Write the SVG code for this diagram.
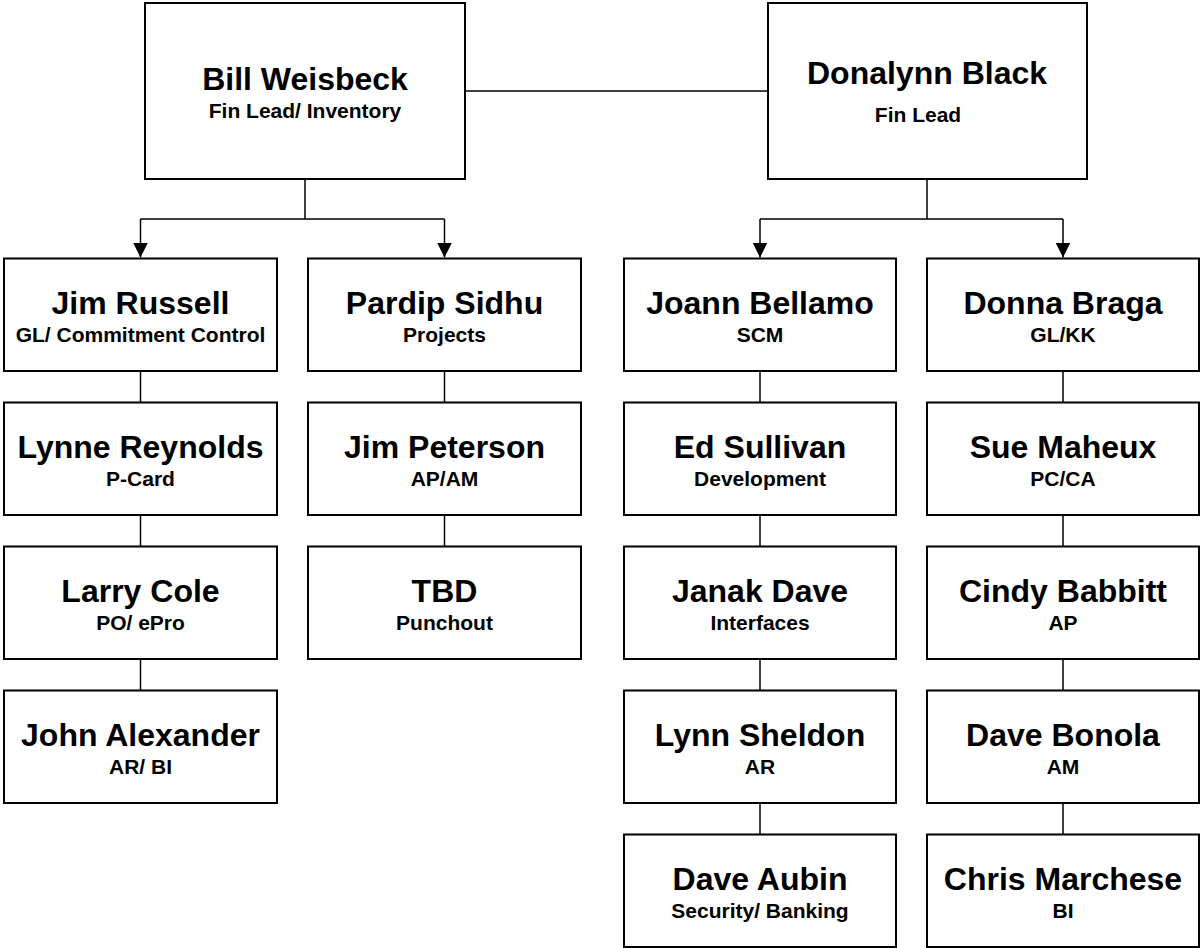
<svg xmlns="http://www.w3.org/2000/svg" width="1203" height="948" viewBox="0 0 1203 948">
  <style>
    .box { fill: #ffffff; stroke: #000000; stroke-width: 2; }
    .link { fill: none; stroke: #000000; stroke-width: 1.5; }
    .name { font-family: "Liberation Sans", Arial, sans-serif; font-weight: bold; font-size: 32px; text-anchor: middle; fill: #000000; }
    .role { font-family: "Liberation Sans", Arial, sans-serif; font-weight: bold; font-size: 21px; text-anchor: middle; fill: #000000; }
  </style>
  <defs>
    <marker id="arrow" markerUnits="userSpaceOnUse" markerWidth="15" markerHeight="15" refX="15" refY="7.5" orient="auto">
      <path d="M0,0 L15,7.5 L0,15 Z" fill="#000000"/>
    </marker>
  </defs>
  <rect width="1203" height="948" fill="#ffffff"/>

  <!-- connectors -->
  <g id="connectors">
    <line class="link" x1="465" y1="91" x2="768" y2="91"/>
    <!-- Bill Weisbeck branch -->
    <polyline class="link" points="305,179 305,219"/>
    <polyline class="link" points="140.5,219 444.5,219"/>
    <line class="link" x1="140.5" y1="219" x2="140.5" y2="257.5" marker-end="url(#arrow)"/>
    <line class="link" x1="444.5" y1="219" x2="444.5" y2="257.5" marker-end="url(#arrow)"/>
    <!-- Donalynn Black branch -->
    <polyline class="link" points="927,179 927,219"/>
    <polyline class="link" points="760,219 1063,219"/>
    <line class="link" x1="760" y1="219" x2="760" y2="257.5" marker-end="url(#arrow)"/>
    <line class="link" x1="1063" y1="219" x2="1063" y2="257.5" marker-end="url(#arrow)"/>
    <!-- column 1 -->
    <line class="link" x1="140.5" y1="371" x2="140.5" y2="402.5"/>
    <line class="link" x1="140.5" y1="515" x2="140.5" y2="546.5"/>
    <line class="link" x1="140.5" y1="659" x2="140.5" y2="690.5"/>
    <!-- column 2 -->
    <line class="link" x1="444.5" y1="371" x2="444.5" y2="402.5"/>
    <line class="link" x1="444.5" y1="515" x2="444.5" y2="546.5"/>
    <!-- column 3 -->
    <line class="link" x1="760" y1="371" x2="760" y2="402.5"/>
    <line class="link" x1="760" y1="515" x2="760" y2="546.5"/>
    <line class="link" x1="760" y1="659" x2="760" y2="690.5"/>
    <line class="link" x1="760" y1="803" x2="760" y2="834.5"/>
    <!-- column 4 -->
    <line class="link" x1="1063" y1="371" x2="1063" y2="402.5"/>
    <line class="link" x1="1063" y1="515" x2="1063" y2="546.5"/>
    <line class="link" x1="1063" y1="659" x2="1063" y2="690.5"/>
    <line class="link" x1="1063" y1="803" x2="1063" y2="834.5"/>
  </g>

  <!-- leads -->
  <g id="bill-weisbeck">
    <rect class="box" x="145" y="3" width="320" height="176"/>
    <text class="name" x="305" y="90">Bill Weisbeck</text>
    <text class="role" x="305" y="118">Fin Lead/ Inventory</text>
  </g>
  <g id="donalynn-black">
    <rect class="box" x="768" y="3" width="319" height="176"/>
    <text class="name" x="927" y="83.5">Donalynn Black</text>
    <text class="role" x="918" y="121.5">Fin Lead</text>
  </g>

  <!-- column 1 -->
  <g id="jim-russell">
    <rect class="box" x="4" y="258.5" width="273" height="112.5"/>
    <text class="name" x="140.5" y="314">Jim Russell</text>
    <text class="role" x="140.5" y="341.5">GL/ Commitment Control</text>
  </g>
  <g id="lynne-reynolds">
    <rect class="box" x="4" y="402.5" width="273" height="112.5"/>
    <text class="name" x="140.5" y="458">Lynne Reynolds</text>
    <text class="role" x="140.5" y="485.5">P-Card</text>
  </g>
  <g id="larry-cole">
    <rect class="box" x="4" y="546.5" width="273" height="112.5"/>
    <text class="name" x="140.5" y="602">Larry Cole</text>
    <text class="role" x="140.5" y="629.5">PO/ ePro</text>
  </g>
  <g id="john-alexander">
    <rect class="box" x="4" y="690.5" width="273" height="112.5"/>
    <text class="name" x="140.5" y="746">John Alexander</text>
    <text class="role" x="140.5" y="773.5">AR/ BI</text>
  </g>

  <!-- column 2 -->
  <g id="pardip-sidhu">
    <rect class="box" x="308" y="258.5" width="273" height="112.5"/>
    <text class="name" x="444.5" y="314">Pardip Sidhu</text>
    <text class="role" x="444.5" y="341.5">Projects</text>
  </g>
  <g id="jim-peterson">
    <rect class="box" x="308" y="402.5" width="273" height="112.5"/>
    <text class="name" x="444.5" y="458">Jim Peterson</text>
    <text class="role" x="444.5" y="485.5">AP/AM</text>
  </g>
  <g id="tbd">
    <rect class="box" x="308" y="546.5" width="273" height="112.5"/>
    <text class="name" x="444.5" y="602">TBD</text>
    <text class="role" x="444.5" y="629.5">Punchout</text>
  </g>

  <!-- column 3 -->
  <g id="joann-bellamo">
    <rect class="box" x="624" y="258.5" width="272" height="112.5"/>
    <text class="name" x="760" y="314">Joann Bellamo</text>
    <text class="role" x="760" y="341.5">SCM</text>
  </g>
  <g id="ed-sullivan">
    <rect class="box" x="624" y="402.5" width="272" height="112.5"/>
    <text class="name" x="760" y="458">Ed Sullivan</text>
    <text class="role" x="760" y="485.5">Development</text>
  </g>
  <g id="janak-dave">
    <rect class="box" x="624" y="546.5" width="272" height="112.5"/>
    <text class="name" x="760" y="602">Janak Dave</text>
    <text class="role" x="760" y="629.5">Interfaces</text>
  </g>
  <g id="lynn-sheldon">
    <rect class="box" x="624" y="690.5" width="272" height="112.5"/>
    <text class="name" x="760" y="746">Lynn Sheldon</text>
    <text class="role" x="760" y="773.5">AR</text>
  </g>
  <g id="dave-aubin">
    <rect class="box" x="624" y="834.5" width="272" height="112.5"/>
    <text class="name" x="760" y="890">Dave Aubin</text>
    <text class="role" x="760" y="917.5">Security/ Banking</text>
  </g>

  <!-- column 4 -->
  <g id="donna-braga">
    <rect class="box" x="927" y="258.5" width="272" height="112.5"/>
    <text class="name" x="1063" y="314">Donna Braga</text>
    <text class="role" x="1063" y="341.5">GL/KK</text>
  </g>
  <g id="sue-maheux">
    <rect class="box" x="927" y="402.5" width="272" height="112.5"/>
    <text class="name" x="1063" y="458">Sue Maheux</text>
    <text class="role" x="1063" y="485.5">PC/CA</text>
  </g>
  <g id="cindy-babbitt">
    <rect class="box" x="927" y="546.5" width="272" height="112.5"/>
    <text class="name" x="1063" y="602">Cindy Babbitt</text>
    <text class="role" x="1063" y="629.5">AP</text>
  </g>
  <g id="dave-bonola">
    <rect class="box" x="927" y="690.5" width="272" height="112.5"/>
    <text class="name" x="1063" y="746">Dave Bonola</text>
    <text class="role" x="1063" y="773.5">AM</text>
  </g>
  <g id="chris-marchese">
    <rect class="box" x="927" y="834.5" width="272" height="112.5"/>
    <text class="name" x="1063" y="890">Chris Marchese</text>
    <text class="role" x="1063" y="917.5">BI</text>
  </g>
</svg>
